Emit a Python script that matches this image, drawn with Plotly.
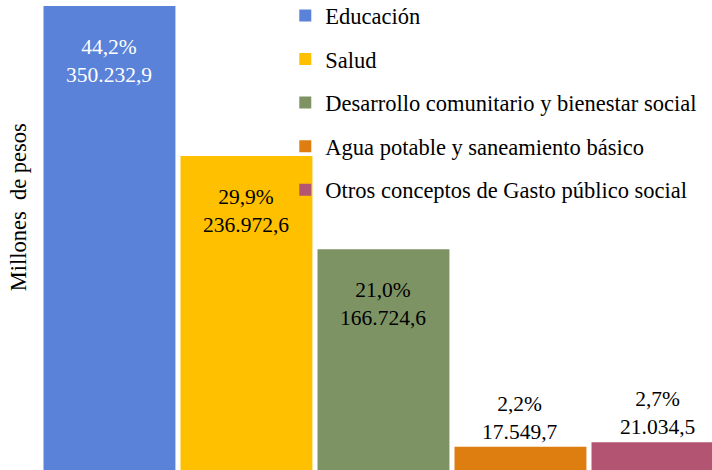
import plotly.graph_objects as go

categories = ["Educación", "Salud", "Desarrollo comunitario y bienestar social",
              "Agua potable y saneamiento básico", "Otros conceptos de Gasto público social"]
values = [350232.9, 236972.6, 166724.6, 17549.7, 21034.5]
value_labels = ["350.232,9", "236.972,6", "166.724,6", "17.549,7", "21.034,5"]
pct_labels = ["44,2%", "29,9%", "21,0%", "2,2%", "2,7%"]
colors = ["#5A82D8", "#FFC000", "#7E9364", "#DE7E10", "#B35572"]
label_inside = [True, True, True, False, False]
label_colors = ["white", "black", "black", "black", "black"]

FONT = "'Liberation Serif', 'Times New Roman', Times, serif"

fig = go.Figure()
for i, cat in enumerate(categories):
    fig.add_trace(go.Bar(
        x=[i], y=[values[i]], name=cat, marker=dict(color=colors[i], line=dict(width=0)),
        width=0.963, legendgroup=str(i), showlegend=True,
    ))
    if label_inside[i]:
        fig.add_annotation(x=i, y=values[i], xref="x", yref="y",
                           text=pct_labels[i] + "<br>" + value_labels[i],
                           showarrow=False, yanchor="top", yshift=-27,
                           font=dict(family=FONT, size=21.5, color=label_colors[i]))
    else:
        fig.add_annotation(x=i, y=values[i], xref="x", yref="y",
                           text=pct_labels[i] + "<br>" + value_labels[i],
                           showarrow=False, yanchor="bottom", yshift=1,
                           font=dict(family=FONT, size=21.5, color=label_colors[i]))

fig.add_annotation(text="Millones  de pesos", xref="paper", yref="paper",
                   x=-0.032, y=0.56, textangle=-90, showarrow=False,
                   xanchor="center", yanchor="middle",
                   font=dict(family=FONT, size=22.5, color="black"))

fig.update_layout(
    width=712, height=470,
    margin=dict(l=40, r=0, t=0, b=0, autoexpand=False),
    paper_bgcolor="white", plot_bgcolor="white",
    xaxis=dict(range=[-0.507, 4.398], visible=False),
    yaxis=dict(range=[0, 354800], visible=False),
    showlegend=True,
    legend=dict(x=0.365, y=1.012, xanchor="left", yanchor="top",
                traceorder="grouped", tracegroupgap=11.3,
                bgcolor="rgba(0,0,0,0)",
                font=dict(family=FONT, size=22.5, color="black")),
    font=dict(family=FONT),
)

fig.write_html("out.html", config={"displayModeBar": False},
               post_script="document.body.style.margin='0';")
